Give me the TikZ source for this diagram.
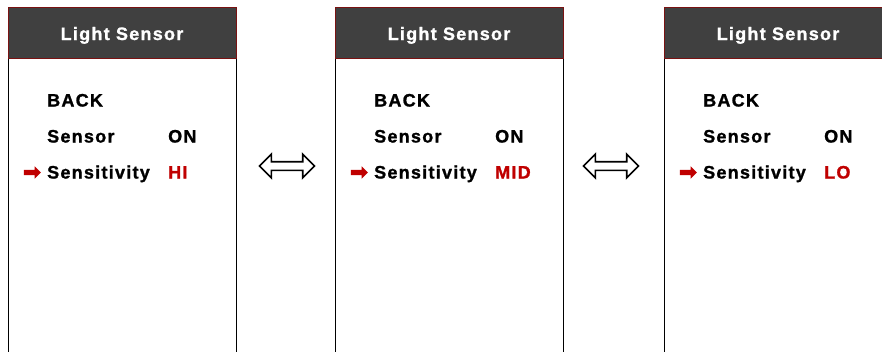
\documentclass[tikz,border=0pt]{standalone}
\usepackage{fontspec}
\setmainfont{Liberation Sans}[LetterSpace=7, BoldFeatures={FakeBold=1.2}]
\usetikzlibrary{shapes.arrows}
\definecolor{hdr}{HTML}{404040}
\definecolor{hdrline}{HTML}{7A1212}
\definecolor{selred}{HTML}{C00000}
\begin{document}
\begin{tikzpicture}[x=1pt,y=1pt,
  panelbody/.style={draw=black, line width=1.2pt, fill=white, inner sep=0, anchor=north west, minimum width=228, minimum height=320},
  panelhead/.style={draw=hdrline, fill=hdr, line width=1pt, inner sep=0, anchor=north west, minimum width=228, minimum height=51},
  headtext/.style={text=white, font=\fontsize{18}{21}\selectfont\bfseries, anchor=base, inner sep=0},
  menutext/.style={text=black, font=\fontsize{18}{21}\selectfont\bfseries, anchor=base west, inner sep=0},
  valtext/.style={menutext, text=selred},
  selarrow/.style={single arrow, fill=selred, draw=none, minimum height=17, minimum width=12, inner xsep=0, inner ysep=2.5, single arrow head extend=3.5},
  swaparrow/.style={double arrow, draw=black, fill=white, line width=1.7pt, minimum height=55, minimum width=22, inner xsep=0, inner ysep=3.5, double arrow head extend=7.5}
]
\useasboundingbox (0,0) rectangle (882,-351);
\clip (0,0) rectangle (882,-351);
\fill[white] (0,0) rectangle (882,-351);
\foreach \n/\x/\v in {1/8/HI,2/335/MID,3/664/LO}{
  \node[panelbody] (body\n) at (\x,-58) {};
  \node[panelhead] (head\n) at (\x,-7) {};
  \node[headtext] (title\n) at (\x+114,-40) {Light Sensor};
  \node[menutext] (back\n) at (\x+39,-106.5) {BACK};
  \node[menutext] (sensor\n) at (\x+39,-142.5) {Sensor};
  \node[menutext] (on\n) at (\x+160,-142.5) {ON};
  \node[menutext] (sens\n) at (\x+39,-178.5) {Sensitivity};
  \node[valtext] (val\n) at (\x+160,-178.5) {\v};
  \node[selarrow] (ptr\n) at (\x+23,-172.5) {};
}
\node[swaparrow] (swap1) at (287,-166) {};
\node[swaparrow] (swap2) at (611,-166) {};
\end{tikzpicture}
\end{document}
